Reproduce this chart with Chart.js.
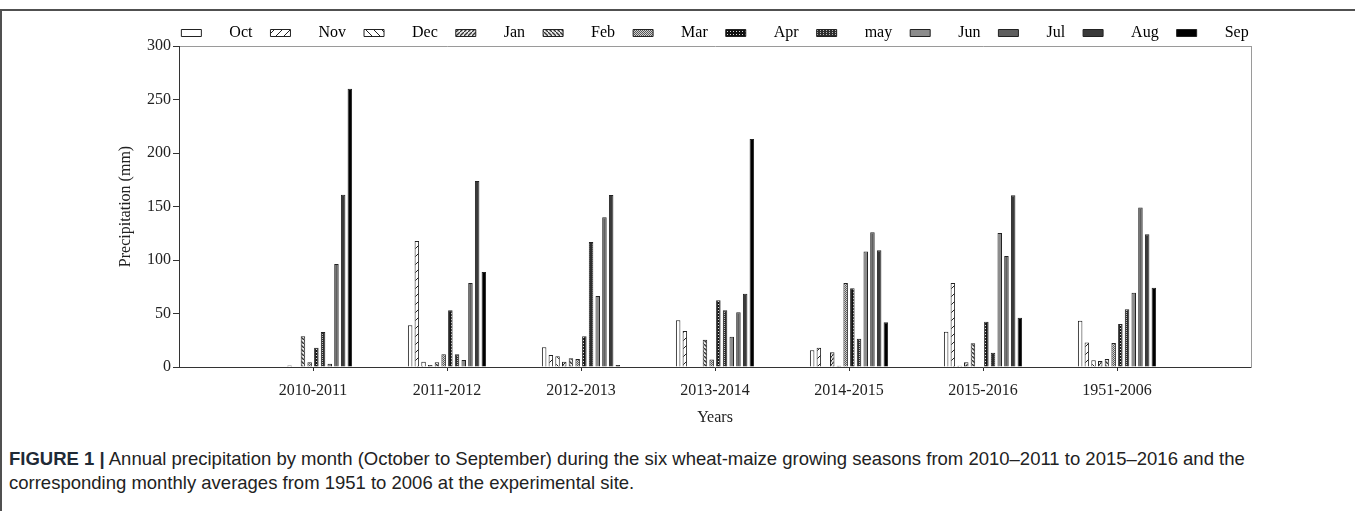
<!DOCTYPE html>
<html>
<head>
<meta charset="utf-8">
<script src="https://cdn.jsdelivr.net/npm/chart.js@4.4.1/dist/chart.umd.min.js"></script>
<style>
  html, body { margin: 0; padding: 0; background: #fff; }
  body { width: 1355px; height: 511px; position: relative; overflow: hidden; }
  #frame { position: absolute; left: 0; top: 9px; width: 1400px; height: 600px;
           border-top: 2px solid #505050; border-left: 2px solid #505050; }
  #wrap { position: absolute; left: 0; top: 0; width: 1355px; height: 427px; }
  #caption { position: absolute; left: 9px; top: 447px; width: 1340px;
             font-family: "Liberation Sans", Arial, sans-serif; font-size: 18.5px;
             line-height: 24px; color: #222; white-space: nowrap; }
  #caption b { color: #1f2a36; }
</style>
</head>
<body>
<div id="frame"></div>
<div id="wrap"><canvas id="precip"></canvas></div>
<div id="caption"><b>FIGURE 1 |</b> Annual precipitation by month (October to September) during the six wheat-maize growing seasons from 2010–2011 to 2015–2016 and the<br>corresponding monthly averages from 1951 to 2006 at the experimental site.</div>

<script>
// seasons on the x axis
const years = ['2010-2011', '2011-2012', '2012-2013', '2013-2014', '2014-2015', '2015-2016', '1951-2006'];
const months = ['Oct', 'Nov', 'Dec', 'Jan', 'Feb', 'Mar', 'Apr', 'may', 'Jun', 'Jul', 'Aug', 'Sep'];

// precipitation (mm), one array per month, one value per season
const oct = [0, 39, 18.4, 43.6, 15.6, 33, 43.3];
const nov = [0, 117.8, 11.2, 33.6, 18, 78.5, 23];
const dec = [1.5, 5, 10, 0, 0, 1.2, 6.2];
const jan = [0, 1.9, 5, 0, 13.7, 4.4, 5.6];
const feb = [28.7, 4.4, 8.1, 25.5, 1.2, 22.1, 7.5];
const mar = [4.4, 11.8, 7.5, 6.9, 78.5, 0, 22.4];
const apr = [18, 53, 28.7, 62.3, 73.5, 42.4, 40.2];
const may = [32.7, 11.8, 116.8, 53, 26.5, 13.4, 53.9];
const jun = [3.1, 6.5, 66.4, 28.3, 108, 125.2, 69.5];
const jul = [96.3, 78.5, 140, 51.1, 126, 103.7, 149];
const aug = [161, 173.8, 160.7, 68.5, 109, 160.4, 124];
const sep = [260, 88.8, 1.9, 213, 41.8, 46.1, 74.1];

const yTicks = [0, 50, 100, 150, 200, 250, 300];

const serif = '"Liberation Serif", "Times New Roman", serif';

function tile(w, h, paint) {
  const c = document.createElement('canvas');
  c.width = w; c.height = h;
  const g = c.getContext('2d');
  paint(g);
  return g.createPattern(c, 'repeat');
}

const fills = [
  '#ffffff',
  tile(8, 8, g => { g.fillStyle = '#fff'; g.fillRect(0, 0, 8, 8); g.strokeStyle = '#222'; g.lineWidth = 1;
    g.beginPath(); g.moveTo(0, 8); g.lineTo(8, 0); g.stroke(); }),
  tile(8, 8, g => { g.fillStyle = '#fff'; g.fillRect(0, 0, 8, 8); g.strokeStyle = '#222'; g.lineWidth = 1;
    g.beginPath(); g.moveTo(0, 0); g.lineTo(8, 8); g.stroke(); }),
  tile(4, 4, g => { g.fillStyle = '#e8e8e8'; g.fillRect(0, 0, 4, 4); g.strokeStyle = '#333'; g.lineWidth = 1.3;
    g.beginPath(); g.moveTo(-1, 5); g.lineTo(5, -1); g.stroke(); }),
  tile(4, 4, g => { g.fillStyle = '#e8e8e8'; g.fillRect(0, 0, 4, 4); g.strokeStyle = '#333'; g.lineWidth = 1.3;
    g.beginPath(); g.moveTo(-1, -1); g.lineTo(5, 5); g.stroke(); }),
  tile(2, 2, g => { g.fillStyle = '#d0d0d0'; g.fillRect(0, 0, 2, 2); g.fillStyle = '#555';
    g.fillRect(0, 0, 1, 1); g.fillRect(1, 1, 1, 1); }),
  tile(3, 3, g => { g.fillStyle = '#111'; g.fillRect(0, 0, 3, 3); g.fillStyle = '#ddd'; g.fillRect(1, 1, 1, 1); }),
  tile(3, 2, g => { g.fillStyle = '#2e2e2e'; g.fillRect(0, 0, 3, 2); g.fillStyle = '#bbb'; g.fillRect(1, 0, 1, 1); }),
  '#8c8c8c',
  '#5f5f5f',
  '#3a3a3a',
  '#000000'
];

const series = [oct, nov, dec, jan, feb, mar, apr, may, jun, jul, aug, sep];

const datasets = series.map((vals, m) => ({
  label: months[m],
  data: vals.map((v, i) => ({ x: i, y: v })),
  backgroundColor: fills[m],
  borderColor: '#222',
  borderWidth: 1,
  categoryPercentage: 0.6,
  barPercentage: 0.67
}));

new Chart(document.getElementById('precip').getContext('2d'), {
  type: 'bar',
  data: { datasets },
  options: {
    responsive: true,
    maintainAspectRatio: false,
    animation: false,
    layout: { padding: { left: 116, right: 29, top: 19, bottom: 0 } },
    plugins: {
      tooltip: { enabled: false },
      legend: {
        position: 'top',
        maxHeight: 27,
        labels: {
          boxWidth: 20,
          boxHeight: 7,
          padding: 6,
          color: '#222',
          font: { family: serif, size: 16 },
          generateLabels: chart => chart.data.datasets.map((ds, i) => ({
            text: '     ' + ds.label + '   ',
            fillStyle: ds.backgroundColor,
            strokeStyle: '#222',
            lineWidth: 1,
            hidden: false,
            datasetIndex: i
          }))
        }
      }
    },
    scales: {
      x: {
        type: 'linear',
        min: -1,
        max: 7,
        offset: false,
        afterBuildTicks: s => { s.ticks = years.map((_, i) => ({ value: i })); },
        afterFit: s => { s.height = 60; },
        ticks: {
          autoSkip: false,
          maxRotation: 0,
          padding: 10,
          color: '#222',
          font: { family: serif, size: 16 },
          callback: v => years[v]
        },
        grid: { offset: false, drawOnChartArea: false, tickLength: 4, color: '#333' },
        border: { color: '#333', width: 1 },
        title: { display: true, text: 'Years', color: '#222', padding: { top: 0, bottom: 0 },
                 font: { family: serif, size: 16 } }
      },
      xTop: {
        type: 'linear',
        axis: 'x',
        position: 'top',
        afterFit: s => { s.height = 0; },
        ticks: { display: false },
        grid: { drawOnChartArea: false, drawTicks: false },
        border: { color: '#9a9a9a', width: 1 }
      },
      y: {
        min: 0,
        max: 300,
        afterBuildTicks: s => { s.ticks = yTicks.map(v => ({ value: v })); },
        afterFit: s => { s.width = 63; },
        ticks: { padding: 2, color: '#222', font: { family: serif, size: 16 } },
        grid: { drawOnChartArea: false, tickLength: 6, color: '#333' },
        border: { color: '#333', width: 1 },
        title: { display: true, text: 'Precipitation (mm)', color: '#222', padding: 0,
                 font: { family: serif, size: 16 } }
      },
      yRight: {
        type: 'linear',
        axis: 'y',
        position: 'right',
        afterFit: s => { s.width = 75; },
        ticks: { display: false },
        grid: { drawOnChartArea: false, drawTicks: false },
        border: { color: '#9a9a9a', width: 1 }
      }
    }
  }
});
</script>
</body>
</html>
